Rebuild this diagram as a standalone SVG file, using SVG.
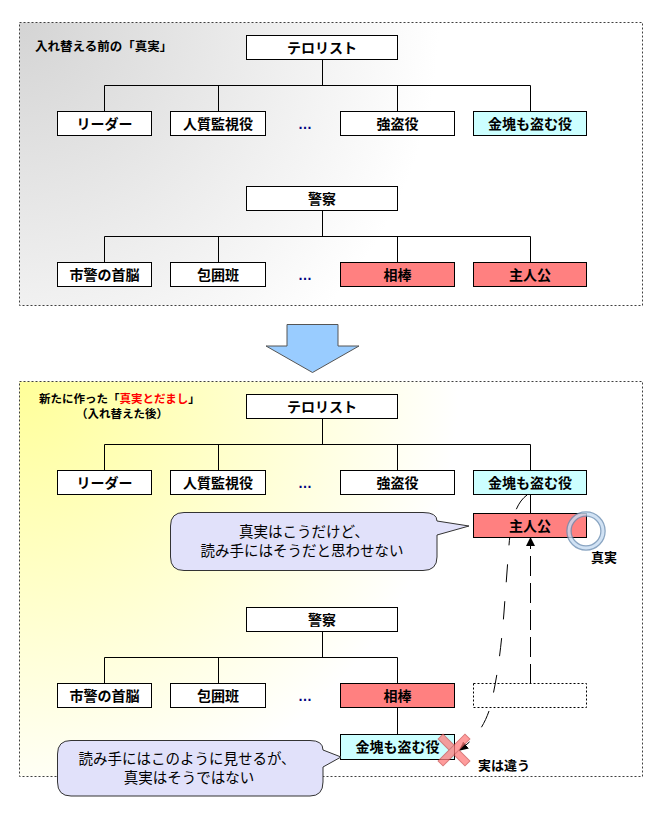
<svg xmlns="http://www.w3.org/2000/svg" width="653" height="814" viewBox="0 0 653 814">
<style>
.panel{stroke:#404040;stroke-width:1;stroke-dasharray:2 2}
.box{fill:#ffffff;stroke:#000;stroke-width:1}
.red{fill:#ff8080}
.cyan{fill:#ccffff}
.ph{fill:none;stroke:#000;stroke-width:1;stroke-dasharray:2 2}
.conn{stroke:#000;stroke-width:1;fill:none}
.lbl{font-family:"Noto Sans CJK JP","Noto Sans CJK SC",sans-serif;font-size:14px;font-weight:bold;text-anchor:middle;fill:#000}
.dots{font-family:"Liberation Sans",sans-serif;font-size:14px;font-weight:bold;text-anchor:middle;fill:#000080}
.ttl{font-family:"Noto Sans CJK JP","Noto Sans CJK SC",sans-serif;font-weight:bold;fill:#000}
.bub{fill:#e1e1fa;stroke:#333;stroke-width:1}
.btx{font-family:"Noto Sans CJK JP","Noto Sans CJK SC",sans-serif;font-size:14.5px;text-anchor:middle;fill:#000}
.note{font-family:"Noto Sans CJK JP","Noto Sans CJK SC",sans-serif;font-size:13px;font-weight:bold;fill:#000}
</style>
<defs>
<radialGradient id="gGray" gradientUnits="userSpaceOnUse" cx="19" cy="22" r="420">
<stop offset="0" stop-color="#d4d4d4"/>
<stop offset="1" stop-color="#ffffff"/>
</radialGradient>
<radialGradient id="gYel" gradientUnits="userSpaceOnUse" cx="19" cy="381" r="440">
<stop offset="0" stop-color="#ffff99"/>
<stop offset="1" stop-color="#ffffff"/>
</radialGradient>
<marker id="ah" viewBox="0 0 10 10" refX="0" refY="5" markerWidth="9" markerHeight="9" markerUnits="userSpaceOnUse" orient="auto">
<path d="M0,0 L10,5 L0,10 Z" fill="#000"/>
</marker>
</defs>

<g id="panel-before">
<rect x="19.5" y="22.5" width="623" height="283" fill="url(#gGray)" class="panel"/>
<text class="ttl" x="35" y="51" font-size="12.5">入れ替える前の「真実」</text>
</g>
<g id="panel-after">
<rect x="19.5" y="381.5" width="623" height="395" fill="url(#gYel)" class="panel"/>
<text class="ttl" x="39" y="403" font-size="11.5">新たに作った「<tspan fill="#ff0000">真実とだまし</tspan>」</text>
<text class="ttl" x="122" y="417.5" font-size="11.5" text-anchor="middle">（入れ替えた後）</text>
</g>

<g id="transition-arrow">
<polygon points="287,324.5 338,324.5 338,346 359,346 312.5,372.5 266,346 287,346" fill="#99ccff" stroke="#555" stroke-width="1"/>
</g>

<g id="connectors">
<path class="conn" d="M322.5,59.5 V85.5 M104.5,85.5 H530.5 M104.5,85.5 V111.5 M218.5,85.5 V111.5 M397.5,85.5 V111.5 M530.5,85.5 V111.5"/>
<path class="conn" d="M322.5,210.5 V236.5 M104.5,236.5 H530.5 M104.5,236.5 V262.5 M218.5,236.5 V262.5 M397.5,236.5 V262.5 M530.5,236.5 V262.5"/>
<path class="conn" d="M322.5,418.5 V444.5 M104.5,444.5 H530.5 M104.5,444.5 V470.5 M218.5,444.5 V470.5 M397.5,444.5 V470.5 M530.5,444.5 V470.5 M530.5,494.5 V513.5"/>
<path class="conn" d="M322.5,631.5 V657.5 M104.5,657.5 H397.5 M104.5,657.5 V683.5 M218.5,657.5 V683.5 M397.5,657.5 V683.5 M397.5,707.5 V734.5"/>
<path class="conn" stroke-dasharray="18 19" d="M527,495 C516,503 511,520 509,545 L504,612 C501,650 497,680 490,708 C485,724 477,736 466,745" marker-end="url(#ah)"/>
</g>

<g id="n-terrorist-top"><rect class="box" x="246.5" y="35.5" width="151" height="24"/><text class="lbl" x="322" y="52.5">テロリスト</text></g>
<g id="n-leader-top"><rect class="box" x="57.5" y="111.5" width="94" height="24"/><text class="lbl" x="104.5" y="128.5">リーダー</text></g>
<g id="n-hostage-top"><rect class="box" x="170.5" y="111.5" width="95" height="24"/><text class="lbl" x="218" y="128.5">人質監視役</text></g>
<g id="n-dots1"><text class="dots" x="305" y="129">…</text></g>
<g id="n-robber-top"><rect class="box" x="340.5" y="111.5" width="114" height="24"/><text class="lbl" x="397.5" y="128.5">強盗役</text></g>
<g id="n-gold-top"><rect class="box cyan" x="473.5" y="111.5" width="113" height="24"/><text class="lbl" x="530" y="128.5">金塊も盗む役</text></g>

<g id="n-police-top"><rect class="box" x="246.5" y="186.5" width="151" height="24"/><text class="lbl" x="322" y="203.5">警察</text></g>
<g id="n-chief-top"><rect class="box" x="57.5" y="262.5" width="94" height="24"/><text class="lbl" x="104.5" y="279.5">市警の首脳</text></g>
<g id="n-siege-top"><rect class="box" x="170.5" y="262.5" width="95" height="24"/><text class="lbl" x="218" y="279.5">包囲班</text></g>
<g id="n-dots2"><text class="dots" x="305" y="280">…</text></g>
<g id="n-partner-top"><rect class="box red" x="340.5" y="262.5" width="114" height="24"/><text class="lbl" x="397.5" y="279.5">相棒</text></g>
<g id="n-hero-top"><rect class="box red" x="473.5" y="262.5" width="113" height="24"/><text class="lbl" x="530" y="279.5">主人公</text></g>

<g id="n-terrorist-bot"><rect class="box" x="246.5" y="394.5" width="151" height="24"/><text class="lbl" x="322" y="411.5">テロリスト</text></g>
<g id="n-leader-bot"><rect class="box" x="57.5" y="470.5" width="94" height="24"/><text class="lbl" x="104.5" y="487.5">リーダー</text></g>
<g id="n-hostage-bot"><rect class="box" x="170.5" y="470.5" width="95" height="24"/><text class="lbl" x="218" y="487.5">人質監視役</text></g>
<g id="n-dots3"><text class="dots" x="305" y="488">…</text></g>
<g id="n-robber-bot"><rect class="box" x="340.5" y="470.5" width="114" height="24"/><text class="lbl" x="397.5" y="487.5">強盗役</text></g>
<g id="n-gold-bot"><rect class="box cyan" x="473.5" y="470.5" width="113" height="24"/><text class="lbl" x="530" y="487.5">金塊も盗む役</text></g>
<g id="n-hero-bot"><rect class="box red" x="473.5" y="513.5" width="113" height="24"/><text class="lbl" x="530" y="530.5">主人公</text></g>

<g id="n-police-bot"><rect class="box" x="246.5" y="607.5" width="151" height="24"/><text class="lbl" x="322" y="624.5">警察</text></g>
<g id="n-chief-bot"><rect class="box" x="57.5" y="683.5" width="94" height="24"/><text class="lbl" x="104.5" y="700.5">市警の首脳</text></g>
<g id="n-siege-bot"><rect class="box" x="170.5" y="683.5" width="95" height="24"/><text class="lbl" x="218" y="700.5">包囲班</text></g>
<g id="n-dots4"><text class="dots" x="305" y="701">…</text></g>
<g id="n-partner-bot"><rect class="box red" x="340.5" y="683.5" width="114" height="24"/><text class="lbl" x="397.5" y="700.5">相棒</text></g>
<g id="n-placeholder"><rect class="ph" x="473.5" y="683.5" width="113" height="24"/></g>
<g id="n-gold-fake"><rect class="box cyan" x="340.5" y="734.5" width="114" height="25"/><text class="lbl" x="397.5" y="752">金塊も盗む役</text></g>

<g id="dashed-up-arrow">
<path class="conn" stroke-dasharray="20 7" d="M530.5,684 L530.5,546" marker-end="url(#ah)"/>
</g>

<g id="truth-mark">
<g opacity="0.8">
<circle cx="586" cy="531" r="17" fill="none" stroke="#6d8fb3" stroke-width="5.5"/>
<circle cx="586" cy="531" r="17" fill="none" stroke="#c6dcf2" stroke-width="3"/>
</g>
<text class="note" x="604" y="562" text-anchor="middle">真実</text>
</g>

<g id="wrong-mark">
<g transform="translate(454,750)" opacity="0.75">
<rect x="-19" y="-3.5" width="38" height="7" transform="rotate(45)" fill="#ff7b7b" stroke="#cc5050" stroke-width="1"/>
<rect x="-19" y="-3.5" width="38" height="7" transform="rotate(-45)" fill="#ff7b7b" stroke="#cc5050" stroke-width="1"/>
</g>
<text class="note" x="478" y="770">実は違う</text>
</g>

<g id="bubble-truth">
<path class="bub" d="M184,512.5 L423,512.5 Q437,512.5 437,521 L469,526 L437,535 L437,557 Q437,570.5 423,570.5 L184,570.5 Q170.5,570.5 170.5,557 L170.5,526 Q170.5,512.5 184,512.5 Z"/>
<text class="btx" x="304" y="536.5">真実はこうだけど、</text>
<text class="btx" x="302" y="556">読み手にはそうだと思わせない</text>
</g>

<g id="bubble-show">
<path class="bub" d="M71,740.5 L310,740.5 Q323,740.5 323,750 L341,757 L323,767 L323,782 Q323,796 310,796 L71,796 Q57.5,796 57.5,782 L57.5,754 Q57.5,740.5 71,740.5 Z"/>
<text class="btx" x="187" y="763.5">読み手にはこのように見せるが、</text>
<text class="btx" x="189" y="783">真実はそうではない</text>
</g>
</svg>
